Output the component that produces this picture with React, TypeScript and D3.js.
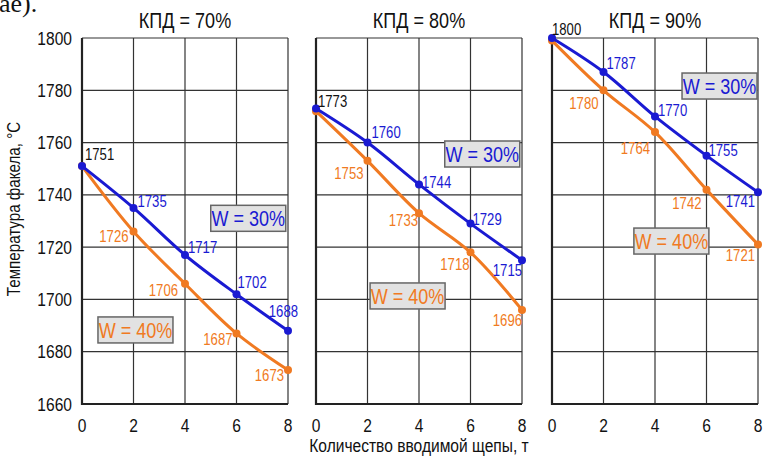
import * as d3 from 'd3'

// chip amount, t
const xValues = [0, 2, 4, 6, 8]
const xTicks = [0, 2, 4, 6, 8]
const yTicks = [1660, 1680, 1700, 1720, 1740, 1760, 1780, 1800]

const panelTitles = ['КПД = 70%', 'КПД = 80%', 'КПД = 90%']

// flame temperature, °C
const w30Values = [
  [1751, 1735, 1717, 1702, 1688],
  [1773, 1760, 1744, 1729, 1715],
  [1800, 1787, 1770, 1755, 1741],
]
const w40Values = [
  [1751, 1726, 1706, 1687, 1673],
  [1772, 1753, 1733, 1718, 1696],
  [1799, 1780, 1764, 1742, 1721],
]

const seriesNames = ['W = 30%', 'W = 40%']

// layout only: legend box corner in data units per panel
const legend30At = [[5.0, 1736], [5.0, 1760.6], [5.05, 1786.6]]
const legend40At = [[0.62, 1693.3], [2.1, 1706.3], [3.18, 1727.3]]

// label offsets [dx, dy, anchor] per point
const blueOffsets = [
  [[3, -6, 'start'], [4, -1, 'start'], [3, -2, 'start'], [1, -6, 'start'], [10, -14, 'end']],
  [[2, -2, 'start'], [4, -5, 'start'], [3, 4, 'start'], [2, 1, 'start'], [0, 16, 'end']],
  [[0, -3, 'start'], [3, -3, 'start'], [3, 0, 'start'], [2, 0, 'start'], [-3, 15, 'end']],
]
const orangeOffsets = [
  [[0, 0, 'end'], [-5, 11, 'end'], [-7, 12, 'end'], [-4, 12, 'end'], [-4, 11, 'end']],
  [[0, 0, 'end'], [-4, 18, 'end'], [-1, 13, 'end'], [-1, 18, 'end'], [0, 16, 'end']],
  [[0, 0, 'end'], [-5, 19, 'end'], [-5, 22, 'end'], [-5, 19, 'end'], [-3, 16, 'end']],
]

const W = 764
const H = 462
const panelLeft = [82, 316, 552]
const panelWidth = 206
const top = 38
const bottom = 404

const blue = '#1a1ad2'
const orange = '#f07a22'
const font = "'Liberation Sans', Arial, sans-serif"
const narrow = 0.82

// narrow text: Arial squeezed horizontally
function T({ x, y, size, anchor = 'start', fill = '#111', rotate = 0, children }: any) {
  return (
    <text
      transform={`translate(${x},${y}) rotate(${rotate}) scale(${narrow},1)`}
      textAnchor={anchor}
      fontSize={size}
      fontFamily={font}
      fill={fill}
    >
      {children}
    </text>
  )
}

const y = d3.scaleLinear().domain([1660, 1800]).range([bottom, top])

function Panel({ i }: { i: number }) {
  const x = d3.scaleLinear().domain([0, 8]).range([panelLeft[i], panelLeft[i] + panelWidth])
  const line = d3
    .line<number>()
    .x((_, k) => x(xValues[k]))
    .y((d) => y(d))
    .curve(d3.curveCatmullRom.alpha(0.5))

  const series = [
    { vals: w40Values[i], color: orange, offs: orangeOffsets[i] },
    { vals: w30Values[i], color: blue, offs: blueOffsets[i] },
  ]

  const legends = [
    { at: legend30At[i], name: seriesNames[0], color: blue },
    { at: legend40At[i], name: seriesNames[1], color: orange },
  ]

  return (
    <g>
      {/* grid */}
      {yTicks.map((t) => (
        <line key={'h' + t} x1={x(0)} x2={x(8)} y1={y(t)} y2={y(t)} stroke="#333" strokeWidth={1.2} />
      ))}
      {xTicks.map((t) => (
        <line key={'v' + t} x1={x(t)} x2={x(t)} y1={y(1800)} y2={y(1660)} stroke="#333" strokeWidth={1.2} />
      ))}
      {/* axes */}
      <line x1={x(0)} x2={x(0)} y1={y(1800)} y2={y(1660) + 1} stroke="#222" strokeWidth={2.2} />
      <line x1={x(0)} x2={x(8)} y1={y(1660)} y2={y(1660)} stroke="#222" strokeWidth={2.2} />

      <T x={x(4)} y={28} size={22} anchor="middle">
        {panelTitles[i]}
      </T>

      {xTicks.map((t) => (
        <T key={'xt' + t} x={x(t)} y={432} size={19} anchor="middle">
          {t}
        </T>
      ))}

      {series.map((s, si) => (
        <g key={si}>
          <path d={line(s.vals) || ''} fill="none" stroke={s.color} strokeWidth={3} />
          {s.vals.map((v, k) => (
            <circle key={k} cx={x(xValues[k])} cy={y(v)} r={4} fill={s.color} />
          ))}
          {s.vals.map((v, k) =>
            k === 0 && si === 0 ? null : (
              <T
                key={'l' + k}
                x={x(xValues[k]) + (s.offs[k][0] as number)}
                y={y(v) + (s.offs[k][1] as number)}
                anchor={s.offs[k][2]}
                size={16}
                fill={k === 0 ? '#111' : s.color}
              >
                {v}
              </T>
            )
          )}
        </g>
      ))}

      {legends.map((l, li) => (
        <g key={'lg' + li}>
          <rect
            x={x(l.at[0])}
            y={y(l.at[1])}
            width={75}
            height={26}
            fill="#e2e2e2"
            stroke="#666"
            strokeWidth={1.5}
          />
          <T x={x(l.at[0]) + 37.5} y={y(l.at[1]) + 21} size={22} anchor="middle" fill={l.color}>
            {l.name}
          </T>
        </g>
      ))}
    </g>
  )
}

export default function App() {
  return (
    <div style={{ position: 'absolute', left: 0, top: 0 }}>
      <svg width={W} height={H} style={{ display: 'block', background: '#fff' }}>
        <text x={-1} y={12} fontSize={26} fontFamily="'Liberation Serif', serif" fill="#111">
          ае).
        </text>
        {yTicks.map((t) => (
          <T key={t} x={72} y={y(t) + 6.5} size={19} anchor="end">
            {t}
          </T>
        ))}
        <T x={20} y={209} size={18.5} anchor="middle" rotate={-90}>
          Температура факела, °C
        </T>
        <T x={419} y={452} size={19} anchor="middle">
          Количество вводимой щепы, т
        </T>
        {[0, 1, 2].map((i) => (
          <Panel key={i} i={i} />
        ))}
      </svg>
    </div>
  )
}
